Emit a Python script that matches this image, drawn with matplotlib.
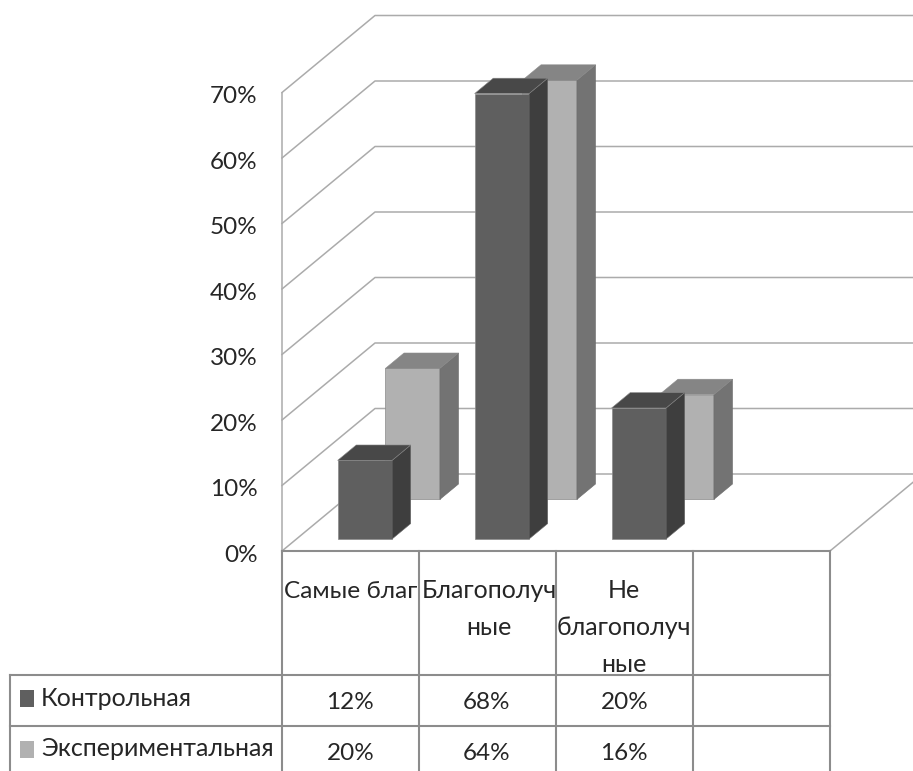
import matplotlib
matplotlib.use('Agg')
import matplotlib.pyplot as plt
from matplotlib.patches import Polygon, Rectangle
from matplotlib.transforms import ScaledTranslation

plt.rcParams['font.family'] = ['Lato', 'DejaVu Sans']

# data
categories = ['Самые благ', 'Благополуч\nные', 'Не\nблагополуч\nные', '']
series_names = ['Контрольная', 'Экспериментальная']
control = [12, 68, 20]
experimental = [20, 64, 16]
y_ticks = [0, 10, 20, 30, 40, 50, 60, 70]

# colours: front, side, top
col_control = ('#5f5f5f', '#3e3e3e', '#484848')
col_exper = ('#b1b1b1', '#737373', '#858585')
col_grid = '#ababab'
col_table = '#8c8c8c'
col_text = '#262626'

# plot geometry (pixels)
W, H = 913, 771
x0, y0 = 282, 551
cat_px = 137
pct_px = 6.55
y_top = 15

# oblique depth shift, in data units
DX = 93 / cat_px
DY = 77 / pct_px

fs = 18

fig = plt.figure(figsize=(W / 100, H / 100), dpi=100, facecolor='white')
ax = fig.add_axes([x0 / W, (H - y0) / H, (W - x0) / W, (y0 - y_top) / H])
ax.set_xlim(0, (W - x0) / cat_px)
ax.set_ylim(0, (y0 - y_top) / pct_px)
ax.patch.set_alpha(0)
for s in ['top', 'right', 'bottom']:
    ax.spines[s].set_visible(False)
ax.spines['left'].set_bounds(0, 70)
ax.spines['left'].set_color(col_grid)
ax.spines['left'].set_linewidth(1.1)
ax.set_xticks([])
ax.set_yticks(y_ticks)
ax.set_yticklabels([f'{v}%' for v in y_ticks], fontsize=17.5, color=col_text)
ax.tick_params(axis='y', length=0, pad=17.5)
# nudge the tick labels down a little
for lab in ax.get_yticklabels():
    lab.set_transform(lab.get_transform() + ScaledTranslation(0, -2.2 / 100, fig.dpi_scale_trans))


def project(x, v, d):
    return x + d * DX, v + d * DY


# zigzag gridlines along the side and back walls
for v in y_ticks:
    xb, yb = project(0, v, 1)
    ax.plot([0, xb, 5], [v, yb, yb], color=col_grid, lw=1.1, clip_on=False, zorder=1)
xb, yb = project(4, 0, 1)
ax.plot([4, xb], [0, yb], color=col_grid, lw=1.1, zorder=1)


def draw_bar(x, v, d0, width, depth, cols, z):
    a = project(x, 0, d0)
    b = project(x + width, 0, d0)
    c = project(x + width, v, d0)
    e = project(x, v, d0)
    bb = project(x + width, 0, d0 + depth)
    cb = project(x + width, v, d0 + depth)
    eb = project(x, v, d0 + depth)
    ax.add_patch(Polygon([a, b, c, e], fc=cols[0], ec='#8a8a8a', lw=0.5, zorder=z, clip_on=False))
    ax.add_patch(Polygon([b, bb, cb, c], fc=cols[1], ec='#6a6a6a', lw=0.4, zorder=z, clip_on=False))
    ax.add_patch(Polygon([e, c, cb, eb], fc=cols[2], ec='#8a8a8a', lw=0.4, zorder=z, clip_on=False))


bar_off = 0.3
bar_w = 54.5 / cat_px
bar_depth = 0.2
for i, v in enumerate(experimental):
    draw_bar(i + bar_off, v, 0.67, bar_w, bar_depth, col_exper, 3)
for i, v in enumerate(control):
    draw_bar(i + bar_off, v, 0.156, bar_w, bar_depth, col_control, 4)

# data table, laid out in pixels
tb = fig.add_axes([0, 0, 1, 1])
tb.set_xlim(0, W)
tb.set_ylim(H, 0)
tb.axis('off')
tb.patch.set_alpha(0)

col_x = [282, 418.5, 555.5, 693, 830]
row_y = [675, 726]
for x in col_x:
    tb.plot([x, x], [y0, H], color=col_table, lw=1.5)
tb.plot([x0, col_x[-1]], [y0, y0], color=col_table, lw=1.5)
tb.plot([10, 10], [row_y[0], H], color=col_table, lw=1.5)
for y in row_y:
    tb.plot([10, col_x[-1]], [y, y], color=col_table, lw=1.5)

# category header cells
tb.text(284.5, 592, categories[0], fontsize=17.6, color=col_text, ha='left', va='center')
for i, shift in zip([1, 2], [2, 0]):
    tb.text((col_x[i] + col_x[i + 1]) / 2 + shift, 579, categories[i], fontsize=fs, color=col_text,
            ha='center', va='top', linespacing=1.75)

# series rows with legend keys
row_text_y = [698, 749]
key_y = [690, 741]
for name, vals, cols, ty, ky in zip(series_names, [control, experimental],
                                    [col_control, col_exper], row_text_y, key_y):
    tb.add_patch(Rectangle((20, ky), 13.5, 17, fc=cols[0], ec='none'))
    tb.text(41, ty, name, fontsize=fs, color=col_text, ha='left', va='center')
    for i, v in enumerate(vals):
        tb.text((col_x[i] + col_x[i + 1]) / 2, ty + 4.5, f'{v}%', fontsize=17.5, color=col_text,
                ha='center', va='center')

fig.savefig('out.png', dpi=100)
